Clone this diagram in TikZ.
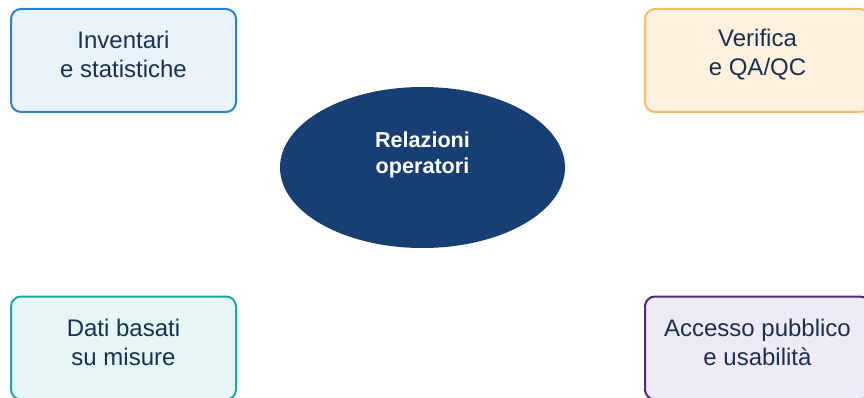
\documentclass[tikz,border=0pt]{standalone}
\usepackage{fontspec}
\setmainfont{Liberation Sans}
\usetikzlibrary{positioning,shapes.geometric}

\definecolor{relblue}{HTML}{173F73}
\definecolor{txtnavy}{HTML}{1B2F4E}
\definecolor{invline}{HTML}{2F80CC}
\definecolor{invfill}{HTML}{E9F3FB}
\definecolor{verline}{HTML}{F6BC66}
\definecolor{verfill}{HTML}{FEF1DD}
\definecolor{datline}{HTML}{1AA8A0}
\definecolor{datfill}{HTML}{E5F6F4}
\definecolor{accline}{HTML}{4D2A78}
\definecolor{accfill}{HTML}{EEEAF8}

\begin{document}
\begin{tikzpicture}[x=1pt,y=-1pt,
  topic/.style={draw, line width=2pt, rounded corners=10pt,
    minimum width=225pt, minimum height=103pt},
  topictxt/.style={text=txtnavy, align=center,
    font=\fontsize{24}{29}\selectfont}]

  \useasboundingbox (0,0) rectangle (864,398);

  % Centre
  \node [ellipse, fill=relblue, minimum width=285pt, minimum height=161pt] (rel) at (422.5,167.5) {};
  \node [text=white, align=center, font=\bfseries\fontsize{21.6}{25.7}\selectfont] (relt) at ([yshift=12.7pt]rel.center) {Relazioni\\operatori};

  % Top left
  \node [topic, draw=invline, fill=invfill, on grid, above left=107pt and 299pt of rel] (inv) {};
  \node [topictxt] (invt) at ([yshift=6pt]inv.center) {Inventari\\e statistiche};

  % Top right
  \node [topic, draw=verline, fill=verfill, on grid, above right=107pt and 335pt of rel] (ver) {};
  \node [topictxt] (vert) at ([yshift=6pt]ver.center) {Verifica\\e QA/QC};

  % Bottom left
  \node [topic, draw=datline, fill=datfill, on grid, below left=180.5pt and 299pt of rel] (dat) {};
  \node [topictxt] (datt) at ([yshift=6pt]dat.center) {Dati basati\\su misure};

  % Bottom right
  \node [topic, draw=accline, fill=accfill, on grid, below right=180.5pt and 335pt of rel] (acc) {};
  \node [topictxt] (acct) at ([yshift=6pt]acc.center) {Accesso pubblico\\e usabilità};

\end{tikzpicture}
\end{document}
